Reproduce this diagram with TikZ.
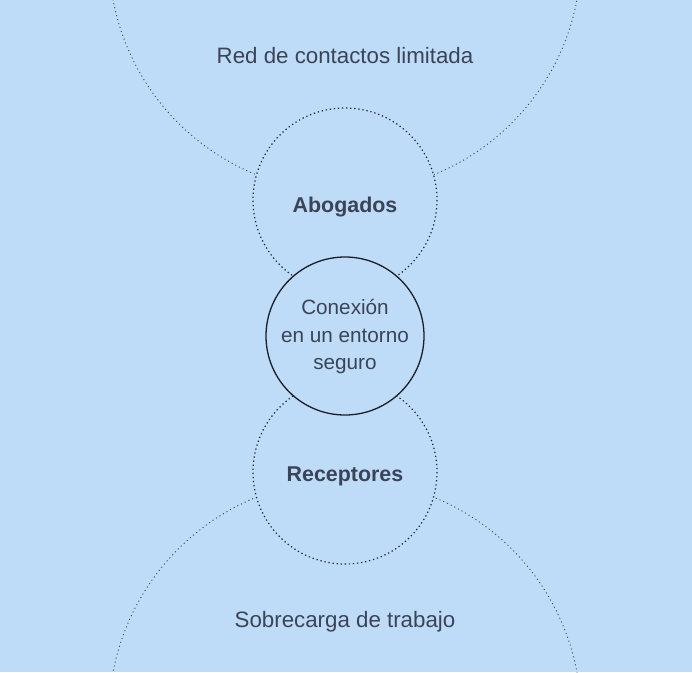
\documentclass[tikz,border=0pt]{standalone}
\usepackage{fontspec}
\setmainfont{Liberation Sans}
\definecolor{bgblue}{HTML}{BEDCF8}
\definecolor{txt}{HTML}{3A4456}
\definecolor{dotdark}{HTML}{1E2838}
\definecolor{dotlight}{HTML}{3C4A5E}
\definecolor{ring}{HTML}{1A1F2A}
\tikzset{
  bigring/.style={draw=dotlight, line width=0.9pt, dash pattern=on 1.1pt off 3pt},
  smallring/.style={draw=dotdark, fill=bgblue, line width=1.2pt, dash pattern=on 1.3pt off 2.8pt},
  corering/.style={draw=ring, fill=bgblue, line width=1.3pt},
  lbl/.style={text=txt, font=\fontsize{22.3}{27.5}\selectfont, anchor=base, align=center},
  clbl/.style={lbl, font=\fontsize{20.7}{27.5}\selectfont},
  blbl/.style={lbl, font=\fontsize{21.4}{27.5}\selectfont\bfseries}
}
\begin{document}
\begin{tikzpicture}[x=1pt,y=-1pt]
\fill[bgblue] (0,0) rectangle (692,672);
\useasboundingbox (0,0) rectangle (692,672);
% large rings
\coordinate (topc) at (345,-44);
\coordinate (botc) at (345,716);
\draw[bigring] (topc) circle[radius=236];
\draw[bigring] (botc) circle[radius=236];
% small rings
\coordinate (abc) at (345,200);
\coordinate (rec) at (345,472);
\coordinate (coc) at (345,336);
\draw[smallring] (abc) circle[radius=92];
\draw[smallring] (rec) circle[radius=92];
\draw[corering] (coc) circle[radius=79];
% labels
\node[lbl] (red) at (345,63) {Red de contactos limitada};
\node[blbl] (abog) at (345,212) {Abogados};
\node[clbl] (con1) at (345,314) {Conexión};
\node[clbl] (con2) at (345,342) {en un entorno};
\node[clbl] (con3) at (345,369) {seguro};
\node[blbl] (recep) at (345,481) {Receptores};
\node[lbl] (sobre) at (345,627) {Sobrecarga de trabajo};
\end{tikzpicture}
\end{document}
